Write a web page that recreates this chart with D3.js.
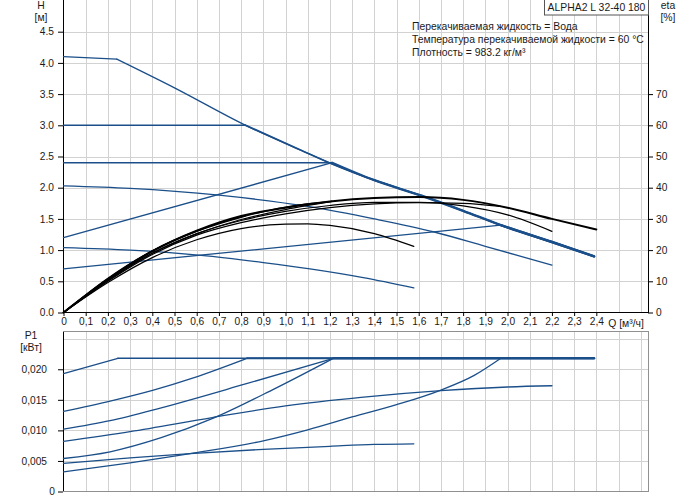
<!DOCTYPE html>
<html><head><meta charset="utf-8">
<script src="https://cdn.jsdelivr.net/npm/d3@7"></script>
<style>
body{margin:0;background:#fff}
text{font-family:"Liberation Sans",Arial,sans-serif;font-size:10.4px;fill:#1a1a1a}
.tick text{font-size:10.2px}
</style>
</head><body>
<svg id="c" width="691" height="500"></svg>
<script>
// ---------- data ----------
const qTicks = [0,0.1,0.2,0.3,0.4,0.5,0.6,0.7,0.8,0.9,1.0,1.1,1.2,1.3,1.4,1.5,1.6,1.7,1.8,1.9,2.0,2.1,2.2,2.3,2.4];
const qGrid = [0.1,0.2,0.3,0.4,0.5,0.6,0.7,0.8,0.9,1.0,1.1,1.2,1.3,1.4,1.5,1.6,1.7,1.8,1.9,2.0,2.1,2.2,2.3,2.4,2.5,2.6];
const hTicks = [0,0.5,1.0,1.5,2.0,2.5,3.0,3.5,4.0,4.5];
const etaTicks = [0,10,20,30,40,50,60,70];
const pTicks = [0,0.005,0.010,0.015,0.020];
const pGrid = [0.005,0.010,0.015,0.020,0.025];

// H curves [Q, H]
const hMaxFlat = [[0,4.10],[0.24,4.06]];
const hMax = [[0.24,4.06],[0.5,3.60],[0.82,3.00],[1.07,2.60],[1.21,2.38],[1.4,2.12],[1.61,1.875],[1.8,1.63],[1.97,1.40],[2.2,1.13],[2.39,0.90]];
const hConst30 = [[0,3.0],[0.82,3.0]];
const hConst24 = [[0,2.4],[1.21,2.4]];
const hProp12 = [[0,1.2],[1.21,2.4]];
const hProp07 = [[0,0.7],[1.97,1.40]];
const hFix203 = [[0,2.03],[0.3,1.99],[0.7,1.88],[1.1,1.70],[1.4,1.50],[1.67,1.29],[1.9,1.06],[2.2,0.76]];
const hFix105 = [[0,1.04],[0.3,1.00],[0.62,0.915],[0.9,0.80],[1.11,0.70],[1.35,0.56],[1.578,0.396]];

// eta curves [Q, %]
const etaMax = [[0,0],[0.2,10.6],[0.4,19.6],[0.6,26.2],[0.8,30.9],[1.0,33.6],[1.2,35.6],[1.4,36.7],[1.6,37.0],[1.8,36.1],[2.0,33.6],[2.2,30.0],[2.4,26.6]];
const etaC30 = [[0,0],[0.2,10.8],[0.4,19.8],[0.6,26.2],[0.82,31.0]];
const etaC24 = [[0,0],[0.2,10.6],[0.4,19.0],[0.6,25.2],[0.8,29.8],[1.0,33.0],[1.21,35.6]];
const etaP12 = [[0,0],[0.2,11.0],[0.4,19.8],[0.6,26.0],[0.8,30.5],[1.0,33.8],[1.21,35.6]];
const etaP07 = [[0,0],[0.2,10.0],[0.4,18.6],[0.6,24.8],[0.8,28.8],[1.0,31.6],[1.2,33.6],[1.4,34.8],[1.6,35.2],[1.8,35.0],[1.97,34.0]];
const etaF203 = [[0,0],[0.2,10.2],[0.4,19.0],[0.6,25.3],[0.8,29.5],[1.0,32.4],[1.2,34.3],[1.4,35.3],[1.6,35.3],[1.8,34.2],[2.0,31.3],[2.2,26.0]];
const etaF105 = [[0,0],[0.2,9.6],[0.4,17.6],[0.6,23.3],[0.8,26.9],[1.0,28.3],[1.1,28.4],[1.2,27.9],[1.4,25.3],[1.578,21.2]];

// P1 curves [Q, kW]
const pMaxFlat = [[0.245,0.0218],[2.39,0.0218]];
const pMax = [[0,0.0193],[0.245,0.0218]];
const pC30 = [[0,0.0131],[0.21,0.0148],[0.405,0.0166],[0.585,0.0186],[0.827,0.0218]];
const pC24 = [[0,0.0102],[0.21,0.0116],[0.44,0.0137],[0.82,0.0176],[1.216,0.0218]];
const pP12 = [[0,0.0054],[0.21,0.0065],[0.44,0.0088],[0.675,0.0120],[0.95,0.0168],[1.216,0.0218]];
const pP07 = [[0,0.0032],[0.3,0.0047],[0.57,0.0062],[0.9,0.0083],[1.1,0.0101],[1.3,0.0122],[1.5,0.0142],[1.7,0.0166],[1.85,0.0190],[1.97,0.0218]];
const pF203 = [[0,0.0082],[0.3,0.0098],[0.67,0.0121],[1.0,0.0140],[1.34,0.0154],[1.7,0.0165],[2.0,0.0171],[2.2,0.0173]];
const pF105 = [[0,0.0046],[0.3,0.0055],[0.57,0.0062],[0.9,0.0069],[1.2,0.0074],[1.4,0.0077],[1.578,0.0078]];

const pumpName = "ALPHA2 L 32-40 180";
const infoLines = ["Перекачиваемая жидкость = Вода","Температура перекачиваемой жидкости = 60 °C","Плотность = 983.2 кг/м³"];

// ---------- drawing ----------
const svg = d3.select("#c");
svg.append("rect").attr("width",691).attr("height",500).attr("fill","#fff");

const x = d3.scaleLinear().domain([0,2.635]).range([63.5,648.5]);
const yH = d3.scaleLinear().domain([0,5]).range([312.5,0.5]);
const yE = d3.scaleLinear().domain([0,100]).range([312.5,0.5]);
const yP = d3.scaleLinear().domain([0,0.02618]).range([491.5,331.5]);

const BLUE = "#1b4f8a", GRID = "#d2d2d2";

// grids
const gGrid = svg.append("g").attr("stroke",GRID).attr("stroke-width",1);
qGrid.forEach(q=>{
  const xx = Math.round(x(q))+0.5;
  gGrid.append("line").attr("x1",xx).attr("x2",xx).attr("y1",0).attr("y2",312);
  gGrid.append("line").attr("x1",xx).attr("x2",xx).attr("y1",331).attr("y2",491);
});
hTicks.filter(h=>h>0).forEach(h=>{
  const yy = Math.round(yH(h))+0.5;
  gGrid.append("line").attr("x1",63).attr("x2",648).attr("y1",yy).attr("y2",yy);
});
pGrid.forEach(p=>{
  const yy = Math.round(yP(p))+0.5;
  gGrid.append("line").attr("x1",63).attr("x2",648).attr("y1",yy).attr("y2",yy);
});

// frames
const fr = svg.append("g").attr("fill","none");
fr.append("line").attr("x1",63.5).attr("x2",63.5).attr("y1",0).attr("y2",312.5).attr("stroke","#000");
fr.append("line").attr("x1",63).attr("x2",649).attr("y1",312.5).attr("y2",312.5).attr("stroke","#000");
fr.append("line").attr("x1",648.5).attr("x2",648.5).attr("y1",0).attr("y2",312.5).attr("stroke","#000");
fr.append("line").attr("x1",63.5).attr("x2",63.5).attr("y1",331).attr("y2",492).attr("stroke","#000");
fr.append("line").attr("x1",63).attr("x2",649).attr("y1",331.5).attr("y2",331.5).attr("stroke","#909090");
fr.append("line").attr("x1",648.5).attr("x2",648.5).attr("y1",331).attr("y2",492).attr("stroke","#909090");
fr.append("line").attr("x1",63).attr("x2",649).attr("y1",491.5).attr("y2",491.5).attr("stroke","#909090");

function styleAxis(g){
  g.select(".domain").remove();
  g.attr("font-size",null).attr("font-family",null);
  g.selectAll(".tick line").attr("stroke","#000");
}

// x axis top chart
svg.append("g").attr("transform","translate(0,312)")
  .call(d3.axisBottom(x).tickValues(qTicks).tickSize(4).tickPadding(2)
    .tickFormat(d=> d===0 ? "0" : d3.format(".1f")(d).replace(".",",")))
  .call(styleAxis);
svg.append("text").attr("x",626).attr("y",327).attr("text-anchor","middle").text("Q [м³/ч]");

// left H axis
svg.append("g").attr("transform","translate(63,0)")
  .call(d3.axisLeft(yH).tickValues(hTicks).tickSize(5).tickPadding(4).tickFormat(d3.format(".1f")))
  .call(styleAxis);
svg.append("text").attr("x",41).attr("y",9).attr("text-anchor","middle").text("H");
svg.append("text").attr("x",41).attr("y",21).attr("text-anchor","middle").text("[м]");

// right eta axis
svg.append("g").attr("transform","translate(648,0)")
  .call(d3.axisRight(yE).tickValues(etaTicks).tickSize(5).tickPadding(3))
  .call(styleAxis);
svg.append("text").attr("x",668).attr("y",9).attr("text-anchor","middle").text("eta");
svg.append("text").attr("x",668).attr("y",21).attr("text-anchor","middle").text("[%]");

// bottom P axis
svg.append("g").attr("transform","translate(63,0)")
  .call(d3.axisLeft(yP).tickValues(pTicks).tickSize(5).tickPadding(11)
    .tickFormat(d=> d===0 ? "0" : d3.format(".3f")(d).replace(".",",")))
  .call(styleAxis)
  .call(g=>g.selectAll(".tick").filter(d=>d===0).select("text").attr("x",-8));
svg.append("text").attr("x",31).attr("y",339).attr("text-anchor","middle").text("P1");
svg.append("text").attr("x",31).attr("y",351).attr("text-anchor","middle").text("[кВт]");

// info text
svg.append("rect").attr("x",544.5).attr("y",-1).attr("width",104).attr("height",16)
  .attr("fill","#fff").attr("stroke","#555");
svg.append("text").attr("x",596.5).attr("y",11).attr("text-anchor","middle").text(pumpName);
infoLines.forEach((t,i)=>{
  svg.append("text").attr("x",412).attr("y",30+i*13).text(t);
});

// curves
const lineH = d3.line().x(d=>x(d[0])).y(d=>yH(d[1])).curve(d3.curveMonotoneX);
const lineE = d3.line().x(d=>x(d[0])).y(d=>yE(d[1])).curve(d3.curveMonotoneX);
const lineP = d3.line().x(d=>x(d[0])).y(d=>yP(d[1])).curve(d3.curveMonotoneX);
const cg = svg.append("g").attr("fill","none").attr("stroke-linejoin","round").attr("stroke-linecap","round");

function tail(arr, q0){ return arr.filter(d=>d[0]>q0); }
function path(gen, data, color, w){
  cg.append("path").attr("d",gen(data)).attr("stroke",color).attr("stroke-width",w);
}

// H curves
path(lineH, hMaxFlat, BLUE, 1.3);
path(lineH, hMax, BLUE, 1.3);
path(lineH, hConst30, BLUE, 1.6);
path(lineH, hConst24, BLUE, 1.3);
path(lineH, hProp12, BLUE, 1.3);
path(lineH, hProp07, BLUE, 1.3);
path(lineH, hFix203, BLUE, 1.3);
path(lineH, hFix105, BLUE, 1.3);
path(lineH, [hConst30[1]].concat(tail(hMax,0.82)), BLUE, 1.8);
path(lineH, [hConst24[1]].concat(tail(hMax,1.21)), BLUE, 2.4);
path(lineH, [hProp07[1]].concat(tail(hMax,1.97)), BLUE, 2.4);

// eta curves
path(lineE, etaF105, "#000", 1.2);
path(lineE, etaF203, "#000", 1.2);
path(lineE, etaP07, "#000", 1.2);
path(lineE, etaC24, "#000", 1.2);
path(lineE, etaP12, "#000", 1.2);
path(lineE, etaC30, "#000", 1.2);
path(lineE, etaMax, "#000", 2.0);

// P curves
path(lineP, pMax, BLUE, 1.3);
path(lineP, pMaxFlat, BLUE, 1.3);
path(lineP, pC30, BLUE, 1.3);
path(lineP, pC24, BLUE, 1.3);
path(lineP, pP12, BLUE, 1.3);
path(lineP, pP07, BLUE, 1.3);
path(lineP, pF203, BLUE, 1.3);
path(lineP, pF105, BLUE, 1.3);
path(lineP, [pC30[pC30.length-1],[2.39,0.0218]], BLUE, 1.8);
path(lineP, [pC24[pC24.length-1],[2.39,0.0218]], BLUE, 2.4);
</script>
</body></html>
